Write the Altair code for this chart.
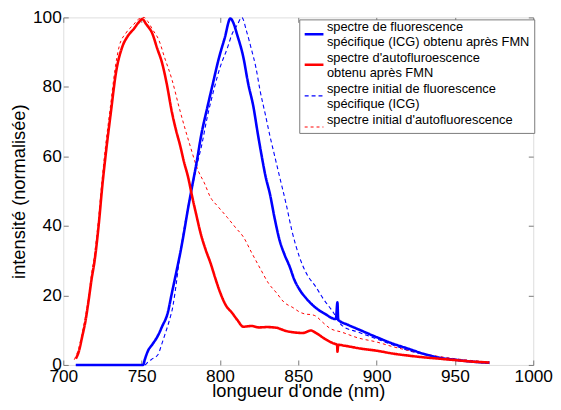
import altair as alt
import pandas as pd

SERIES = [
    "spectre de fluorescence|spécifique (ICG) obtenu après FMN",
    "spectre d'autofluroescence|obtenu après FMN",
    "spectre initial de fluorescence|spécifique (ICG)",
    "spectre initial d'autofluorescence",
]
COLORS = ["#0000ff", "#ff0000", "#0000ff", "#ff0000"]
DASHES = [[1, 0], [1, 0], [4, 3], [3, 3]]
WIDTHS = [2.6, 2.6, 1.1, 1.0]

X_TICKS = [700, 750, 800, 850, 900, 950, 1000]
Y_TICKS = [0, 20, 40, 60, 80, 100]

# blue solid: specific fluorescence (ICG) after FMN
bs_x = [708, 751, 752, 754, 757, 760.5, 763, 766.8, 769, 772, 775, 777, 779.4, 782.5, 785, 788,
        792, 795.5, 799.4, 803, 806.7, 808.5, 811, 815, 818, 821.4, 824, 826.5, 829, 832, 835,
        838, 841, 844.5, 847.5, 850.8, 855, 861, 867, 874, 875, 875.5, 882, 888.6, 900, 910,
        920, 930, 941, 950, 960, 972]
bs_y = [0, 0, 1.5, 4, 6, 8.5, 11, 15.2, 20, 26.4, 33, 38, 44.4, 52, 58, 66,
        74.2, 81, 88.4, 94, 99.7, 98.5, 95, 88.4, 81, 74.2, 67, 60.5, 54.5, 49, 42,
        36, 32, 28.3, 24.5, 21.7, 19.2, 16.5, 14.7, 13.2, 18, 13, 11.5, 10.2, 8, 6.2,
        4.7, 3.2, 2, 1.5, 1, 0.6]

# red solid: autofluorescence after FMN
rs_x = [708, 710, 712, 714.3, 716, 718, 720, 722.7, 724.8, 727.3, 730.4, 733.6, 737.8, 741,
        745.2, 748, 750.4, 753, 756.7, 760, 763, 766, 769.3, 772, 774.5, 777, 779.8, 782, 785,
        787.6, 791, 794, 797, 800, 804, 807.7, 811, 815, 820, 825, 830, 836, 842, 848.7, 853,
        858, 862, 867, 872, 874.8, 875, 875.5, 880, 890, 900, 910, 920, 930, 940, 950, 960, 972]
rs_y = [1.8, 4, 8, 13, 18, 24.5, 30, 40.7, 51, 61.4, 72.8, 84, 91.7, 94.5,
        96.8, 98.5, 99.5, 98, 95.5, 91, 87, 81, 72.8, 67.5, 63.3, 58.5, 53.8, 49, 43,
        38, 33, 29.3, 25, 21, 17, 15, 13, 11, 11.2, 10.8, 10.9, 10.7, 9.8, 9.3, 9.2,
        9.9, 9, 7.5, 6.3, 5.8, 3.8, 5.8, 5.5, 4.7, 4.1, 3.3, 2.7, 2.2, 1.8, 1.4, 1.0, 0.7]

# blue dashed: initial specific fluorescence (ICG)
bd_x = [708, 752, 754, 757, 760.5, 762.5, 764.7, 767.5, 770, 772, 774, 776.5, 779.4, 782.5, 785,
        788, 792, 796, 800, 804.6, 808, 811, 814, 817, 820, 823, 825.6, 829, 832, 835, 838,
        842.4, 846, 850.8, 855, 861, 866, 871.8, 878, 888.6, 900, 910, 920, 935, 950, 960, 972]
bd_y = [0, 0, 0.8, 1.8, 3, 5.5, 8.5, 12.5, 17, 23, 30, 37.5, 45, 51.5, 57,
        62.5, 71.5, 79, 85.5, 91, 95.5, 97.8, 100, 96, 91, 85.5, 79, 72, 65.7, 60, 54.3,
        46, 38.5, 31, 26.5, 22.6, 19, 15.5, 11.3, 9.4, 7.5, 5.8, 4.2, 2.6, 1.4, 0.9, 0.5]

# red dashed: initial autofluorescence
rd_x = [707, 710, 712, 714, 716, 718, 720, 722.5, 724.5, 727, 730, 733, 735.7, 740, 745, 748,
        751.5, 754, 757, 760.9, 764.7, 769.3, 774.3, 780.8, 786, 790, 794, 798.3, 804.6, 810,
        815, 820, 826, 831, 836, 841, 846.6, 851, 855, 858, 861, 865.5, 870, 878, 888, 900,
        910, 920, 935, 950, 960, 972]
rd_y = [1.5, 5, 9, 13.5, 19, 26, 32, 42, 52, 63, 74, 85, 91.7, 95.5, 98, 99.5,
        100, 98.8, 96.5, 93.6, 88.4, 82.2, 73.5, 63.3, 56, 52.4, 48.2, 45.8, 42.5, 39.5,
        36.8, 32.5, 27.5, 23.5, 20.8, 18, 16.5, 15.2, 14.6, 14.5, 14.1, 12.3, 10.6, 9.4, 7.8, 6.6,
        5.3, 4.2, 2.8, 1.8, 1.3, 0.9]

frames = []
for name, xs, ys in [(SERIES[2], bd_x, bd_y), (SERIES[3], rd_x, rd_y),
                     (SERIES[0], bs_x, bs_y), (SERIES[1], rs_x, rs_y)]:
    frames.append(pd.DataFrame({"x": xs, "y": ys, "serie": name}))
df = pd.concat(frames, ignore_index=True)

FONT = "Liberation Sans"
GREY = "#7a7a7a"

xscale = alt.Scale(domain=[700, 1000], nice=False, zero=False)
yscale = alt.Scale(domain=[0, 100], nice=False)

legend = alt.Legend(
    title=None, orient="none", legendX=239, legendY=2, fillColor="white", strokeColor=GREY,
    padding=4, labelExpr="split(datum.label, '|')", labelFont=FONT, labelFontSize=13,
    labelColor="black", labelLimit=320, labelBaseline="bottom", symbolType="stroke",
    symbolSize=361, rowPadding=3, labelOffset=2,
)

common_axis = dict(offset=-5, tickSize=5, domain=False, grid=False, tickColor=GREY,
                   labelFont=FONT, labelFontSize=17.5, labelColor="black",
                   titleFont=FONT, titleFontSize=18.5, titleFontWeight="normal",
                   titleColor="black", labelFlush=False)

lines = alt.Chart(df).mark_line(interpolate="monotone").encode(
    x=alt.X("x:Q", scale=xscale,
            axis=alt.Axis(values=X_TICKS, title="longueur d'onde (nm)", titleY=37,
                          titleBaseline="alphabetic", labelPadding=3,
                          format="d", orient="bottom", **common_axis)),
    y=alt.Y("y:Q", scale=yscale,
            axis=alt.Axis(values=Y_TICKS, title="intensité (normalisée)", titleX=-50,
                          titleBaseline="middle", labelPadding=2,
                          format="d", orient="left", **common_axis)),
    color=alt.Color("serie:N", sort=SERIES,
                    scale=alt.Scale(domain=SERIES, range=COLORS), legend=legend),
    strokeDash=alt.StrokeDash("serie:N", sort=SERIES,
                              scale=alt.Scale(domain=SERIES, range=DASHES), legend=legend),
    strokeWidth=alt.StrokeWidth("serie:N", sort=SERIES,
                                scale=alt.Scale(type="ordinal", domain=SERIES, range=WIDTHS),
                                legend=legend),
    order=alt.Order("x:Q"),
)

frame_ticks = alt.Chart(df).mark_line(opacity=0).encode(
    x=alt.X("x:Q", scale=xscale,
            axis=alt.Axis(values=X_TICKS, orient="top", labels=False, title=None,
                          offset=-5, tickSize=5, domain=False, grid=False, tickColor=GREY)),
    y=alt.Y("y:Q", scale=yscale,
            axis=alt.Axis(values=Y_TICKS, orient="right", labels=False, title=None,
                          offset=-5, tickSize=5, domain=False, grid=False, tickColor=GREY)),
    detail="serie:N",
)

chart = alt.layer(lines, frame_ticks).resolve_axis(
    x="independent", y="independent"
).properties(
    width=476, height=352,
    autosize=alt.AutoSizeParams(type="none"),
    padding={"left": 56, "top": 7, "right": 20, "bottom": 35},
).configure_view(stroke=GREY, strokeWidth=1).configure(background="white")

chart.save("out.html", embed_options={"renderer": "svg", "actions": False})
